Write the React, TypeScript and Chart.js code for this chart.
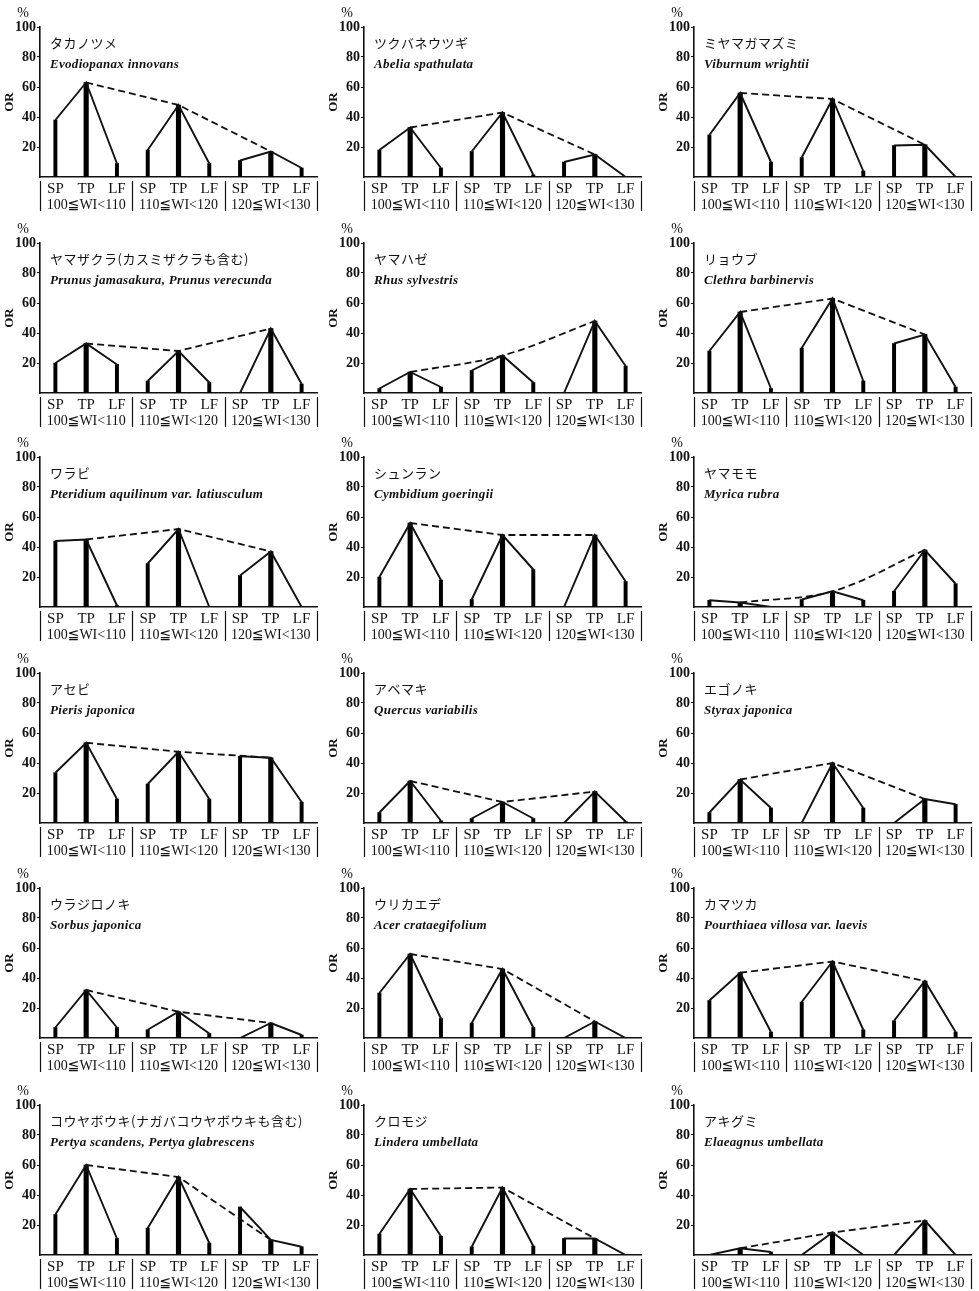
import React, { useEffect, useRef } from 'react';
import { Chart, registerables } from 'chart.js';

Chart.register(...registerables);

// ---------- data ----------
const categories = ['SP', 'TP', 'LF', 'SP', 'TP', 'LF', 'SP', 'TP', 'LF'];
const wiRanges = ['100≦WI<110', '110≦WI<120', '120≦WI<130'];
const yTicks = [20, 40, 60, 80, 100];

const jpNames = [
  'タカノツメ', 'ツクバネウツギ', 'ミヤマガマズミ',
  'ヤマザクラ(カスミザクラも含む)', 'ヤマハゼ', 'リョウブ',
  'ワラビ', 'シュンラン', 'ヤマモモ',
  'アセビ', 'アベマキ', 'エゴノキ',
  'ウラジロノキ', 'ウリカエデ', 'カマツカ',
  'コウヤボウキ(ナガバコウヤボウキも含む)', 'クロモジ', 'アキグミ',
];

const latinNames = [
  'Evodiopanax innovans', 'Abelia spathulata', 'Viburnum wrightii',
  'Prunus jamasakura, Prunus verecunda', 'Rhus sylvestris', 'Clethra barbinervis',
  'Pteridium aquilinum var. latiusculum', 'Cymbidium goeringii', 'Myrica rubra',
  'Pieris japonica', 'Quercus variabilis', 'Styrax japonica',
  'Sorbus japonica', 'Acer crataegifolium', 'Pourthiaea villosa var. laevis',
  'Pertya scandens, Pertya glabrescens', 'Lindera umbellata', 'Elaeagnus umbellata',
];

// OR (%) at SP, TP, LF for each WI class
const evodiopanax = [38, 63, 9, 18, 48, 9, 11, 17, 6];
const abelia = [18, 33, 6, 17, 43, 1.5, 10, 15, 0];
const viburnum = [28, 56, 10, 13, 52, 4, 21, 21.5, 0];
const prunus = [20, 33, 19, 8, 28, 7, 0, 43, 6];
const rhus = [3, 14, 4, 15, 25, 7, 0, 48, 18];
const clethra = [28, 54, 3, 30, 63, 8, 33, 39, 4];
const pteridium = [44, 45, 1, 29, 52, 0, 21, 37, 0];
const cymbidium = [20, 56, 18, 5, 48, 25, 0, 48, 17];
const myrica = [4.5, 3, 0, 5, 10.5, 4.5, 10.5, 38, 15.5];
const pieris = [33.5, 53.5, 16, 26, 47.5, 16, 44.5, 43.5, 14];
const quercus = [7, 28, 1.5, 3, 14, 3, 0, 21, 1];
const styrax = [7, 29, 10, 0, 40, 10, 0, 16, 12.5];
const sorbus = [7, 32, 7, 5.5, 17.5, 3, 0, 10, 2];
const acer = [30, 56, 13, 10, 46, 7, 0, 11, 0];
const pourthiaea = [25, 43.5, 4, 24, 51, 5.5, 11.5, 38, 4];
const pertya = [27, 60, 11, 18, 52, 8, 32, 10, 5.5];
const lindera = [14, 44, 12.5, 5.5, 45, 6, 11, 11, 0];
const elaeagnus = [0, 4.5, 2, 0, 15, 0, 0, 23, 0];

const seriesList = [
  evodiopanax, abelia, viburnum,
  prunus, rhus, clethra,
  pteridium, cymbidium, myrica,
  pieris, quercus, styrax,
  sorbus, acer, pourthiaea,
  pertya, lindera, elaeagnus,
];

// style: curvature of the dashed TP trend line per panel
const dashTension = [0, 0, 0, 0, 0.35, 0, 0, 0, 0.35, 0, 0, 0, 0, 0, 0, 0, 0, 0];

// ---------- layout ----------
const colLefts = [0, 324, 654];
const rowTops = [0, 216, 430, 646, 861, 1078];
const PANEL_W = 325;
const PANEL_H = 213;

const INK = '#111';
const SERIF = '"Liberation Serif", "Noto Sans CJK JP", serif';
const WI_FONT = '"Liberation Serif", "DejaVu Sans", "Noto Sans CJK JP", serif';

const decorPlugin = {
  id: 'panelDecor',
  afterDraw(chart: any, _args: any, opts: any) {
    const { ctx, chartArea } = chart;
    const xs = chart.scales.x;
    ctx.save();
    ctx.fillStyle = INK;
    ctx.textBaseline = 'middle';
    ctx.textAlign = 'center';
    ctx.font = `14px ${SERIF}`;
    ctx.fillText('%', chartArea.left - 17, chartArea.top - 14);

    ctx.textAlign = 'left';
    ctx.font = '13px "Noto Sans CJK JP", sans-serif';
    try { (ctx as any).letterSpacing = '0.5px'; } catch (e) {}
    ctx.fillText(opts.jp, chartArea.left + 10, chartArea.top + 16);
    ctx.font = `italic bold 13px "Liberation Serif", serif`;
    try { (ctx as any).letterSpacing = '0.3px'; } catch (e) {}
    ctx.fillText(opts.latin, chartArea.left + 10, chartArea.top + 38);
    try { (ctx as any).letterSpacing = '0px'; } catch (e) {}

    ctx.strokeStyle = INK;
    ctx.lineWidth = 1.2;
    [-0.5, 2.5, 5.5, 8.5].forEach((b) => {
      const px = Math.round(xs.getPixelForValue(b)) + 0.5;
      ctx.beginPath();
      ctx.moveTo(px, chartArea.bottom + 4);
      ctx.lineTo(px, chartArea.bottom + 34);
      ctx.stroke();
    });
    ctx.restore();
  },
};

function Panel({ index }: { index: number }) {
  const ref = useRef<HTMLCanvasElement | null>(null);
  const col = index % 3;
  const row = Math.floor(index / 3);

  useEffect(() => {
    if (!ref.current) return;
    const values = seriesList[index];
    const tp = values.map((v, k) => (k % 3 === 1 ? v : null));
    const spLf = values.map((v, k) => (k % 3 === 1 ? null : v));

    const chart = new Chart(ref.current, {
      data: {
        labels: categories,
        datasets: [
          {
            type: 'line',
            data: values,
            borderColor: INK,
            borderWidth: 1.9,
            pointRadius: 0,
            tension: 0,
            fill: false,
            segment: {
              borderColor: (c: any) => (c.p0DataIndex % 3 === 2 ? 'rgba(0,0,0,0)' : INK),
            },
          },
          {
            type: 'line',
            data: tp,
            spanGaps: true,
            borderColor: INK,
            borderWidth: 1.8,
            borderDash: [7, 4],
            pointRadius: 0,
            tension: dashTension[index],
            fill: false,
          },
          {
            type: 'bar',
            data: tp,
            barThickness: 4.5,
            backgroundColor: '#000',
            grouped: false,
          },
          {
            type: 'bar',
            data: spLf,
            barThickness: 3.3,
            backgroundColor: '#000',
            grouped: false,
          },
        ],
      } as any,
      options: {
        responsive: false,
        animation: false,
        events: [],
        layout: { padding: { top: 27, left: 0, right: 8, bottom: 0 } },
        plugins: {
          legend: { display: false },
          tooltip: { enabled: false },
          panelDecor: { jp: jpNames[index], latin: latinNames[index] },
        } as any,
        scales: {
          x: {
            type: 'category',
            offset: true,
            position: 'bottom',
            weight: 0,
            grid: { display: false, drawTicks: false, tickLength: 0 },
            border: { display: true, color: INK, width: 1.6 },
            ticks: {
              color: INK,
              font: { family: SERIF, size: 15 },
              padding: 3,
              maxRotation: 0,
              autoSkip: false,
            },
            afterFit: (s: any) => { s.height = 20; },
          },
          x2: {
            type: 'category',
            labels: wiRanges,
            offset: true,
            position: 'bottom',
            weight: 1,
            grid: { display: false, drawTicks: false, tickLength: 0 },
            border: { display: false },
            ticks: {
              color: INK,
              font: { family: WI_FONT, size: 14 },
              padding: 0,
              maxRotation: 0,
              autoSkip: false,
            },
            afterFit: (s: any) => { s.height = 16; },
          },
          y: {
            min: 0,
            max: 100,
            afterBuildTicks: (axis: any) => {
              axis.ticks = yTicks.map((v) => ({ value: v }));
            },
            grid: { display: true, drawOnChartArea: false, tickLength: 3, color: INK },
            border: { display: true, color: INK, width: 1.6 },
            ticks: {
              color: INK,
              font: { family: SERIF, size: 14, weight: 'bold' },
              padding: 1,
            },
            title: {
              display: true,
              text: 'OR',
              color: INK,
              font: { family: SERIF, size: 13, weight: 'bold' },
              padding: { top: 2, bottom: 0 },
            },
            afterFit: (s: any) => { s.width = 40; },
          },
        } as any,
      },
      plugins: [decorPlugin as any],
    } as any);

    return () => chart.destroy();
  }, [index]);

  return (
    <canvas
      ref={ref}
      width={PANEL_W}
      height={PANEL_H}
      style={{
        position: 'absolute',
        left: colLefts[col],
        top: rowTops[row],
        width: PANEL_W,
        height: PANEL_H,
      }}
    />
  );
}

export default function App() {
  return (
    <div
      style={{
        position: 'absolute',
        left: 0,
        top: 0,
        width: 979,
        height: 1291,
        background: '#fff',
        overflow: 'hidden',
      }}
    >
      {seriesList.map((_, i) => (
        <Panel key={i} index={i} />
      ))}
    </div>
  );
}
